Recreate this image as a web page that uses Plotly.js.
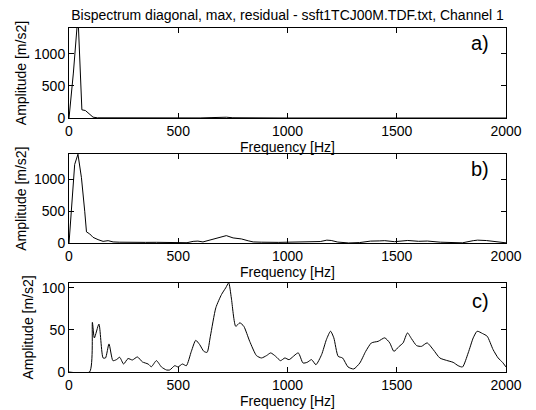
<!DOCTYPE html>
<html>
<head>
<meta charset="utf-8">
<script src="https://cdn.plot.ly/plotly-3.0.1.min.js"></script>
<style>html,body{margin:0;padding:0;background:#fff;}#chart{width:536px;height:410px;}</style>
</head>
<body>
<div id="chart"></div>
<script>
var chartTitle = "Bispectrum diagonal, max, residual - ssft1TCJ00M.TDF.txt, Channel 1";
var xLabel = "Frequency [Hz]";
var yLabel = "Amplitude [m/s2]";
var panelLabels = ["a)", "b)", "c)"];
var xTicks = [0, 500, 1000, 1500, 2000];
var yTicksAB = [0, 500, 1000];
var yTicksC = [0, 50, 100];

// a) diagonal
var freqA = [0, 20, 41, 59, 75, 87, 98, 110, 130, 200, 300, 400, 500, 600, 650, 700, 720, 750, 800, 1000, 1500, 2000];
var ampA  = [0, 700, 1600, 129, 118, 78, 40, 15, 5, 3, 2, 2, 2, 3, 8, 15, 14, 6, 3, 2, 2, 2];

// b) max
var freqB = [0, 26, 41, 57, 72, 80, 95, 110, 133, 156, 179, 202, 230, 260, 300, 350, 400, 450, 500, 540,
             568, 590, 613, 640, 675, 700, 720, 751, 789, 820, 843, 880, 920, 960, 1000, 1050, 1100, 1150, 1180, 1200,
             1230, 1280, 1330, 1380, 1420, 1445, 1490, 1550, 1600, 1640, 1700, 1760, 1800, 1850, 1870, 1910, 1960, 2000];
var ampB  = [0, 1235, 1395, 1027, 502, 179, 147, 94, 58, 31, 42, 22, 18, 20, 18, 15, 16, 10, 8, 10,
             31, 35, 22, 45, 85, 105, 121, 85, 69, 40, 22, 18, 22, 15, 18, 20, 15, 28, 50, 45,
             20, 6, 12, 35, 38, 42, 26, 45, 32, 36, 18, 12, 8, 42, 50, 44, 18, 8];

// c) residual
var freqC = [0, 94, 107, 116, 137, 156, 167, 183, 201, 217, 232, 250, 270, 290, 313, 336, 362, 377, 400, 423,
             446, 461, 484, 499, 519, 537, 560, 580, 598, 617, 632, 647, 672, 698, 717, 731, 743, 763, 782, 800,
             827, 858, 881, 904, 923, 946, 968, 988, 1007, 1049, 1071, 1090, 1110, 1130, 1156, 1178, 1197, 1212, 1232, 1252,
             1277, 1303, 1331, 1358, 1384, 1415, 1445, 1468, 1487, 1511, 1529, 1549, 1568, 1591, 1613, 1639, 1667, 1697, 1728, 1758,
             1781, 1801, 1827, 1850, 1868, 1893, 1914, 1941, 1964, 1984, 2000];
var ampC  = [0, 0, 59, 40.5, 57, 16.7, 16.7, 33.4, 13.5, 14.7, 17.5, 9.5, 16, 14.3, 17.9, 12, 9.5, 6.3, 13.5, 6,
             2.4, 2.4, 7.5, 6, 9.5, 7.5, 24.6, 37.7, 32.6, 24.6, 23.4, 42.5, 76.4, 92.2, 100, 106, 88, 54.4, 58.5, 54.4,
             36.5, 19.5, 16.7, 19.5, 22.7, 18.6, 13.5, 16.7, 14.7, 22.7, 10.7, 11.5, 14.7, 8.7, 20.6, 38.5, 48.5, 40.6, 18.6, 16.7,
             6, 3.6, 10.7, 24.6, 34.6, 36.5, 40.6, 34.6, 24.6, 30.5, 34.6, 46.5, 39.4, 31.4, 30.5, 34.6, 26.6, 16.7, 13.8, 11.5,
             7.5, 6, 22.7, 40.6, 48.5, 45.7, 42.5, 26.6, 16.7, 11.5, 6];

var FONT = "Liberation Sans, Arial, Helvetica, sans-serif";
var lineStyle = {color: "#000", width: 1};

var traces = [
  {x: freqA, y: ampA, xaxis: "x", yaxis: "y", type: "scatter", mode: "lines", line: lineStyle, hoverinfo: "skip"},
  {x: freqB, y: ampB, xaxis: "x2", yaxis: "y2", type: "scatter", mode: "lines", line: lineStyle, hoverinfo: "skip"},
  {x: freqC, y: ampC, xaxis: "x3", yaxis: "y3", type: "scatter", mode: "lines",
   line: {color: "#000", width: 1, shape: "spline", smoothing: 0.6}, hoverinfo: "skip"}
];

function xa(anchor) {
  return {
    anchor: anchor, domain: [0, 1], range: [0, 2000], tickvals: xTicks,
    ticks: "inside", ticklen: 5, tickcolor: "#000", tickwidth: 1,
    showline: true, linecolor: "#000", linewidth: 1, mirror: "ticks",
    showgrid: false, zeroline: false,
    tickfont: {family: FONT, size: 14, color: "#000"},
    title: {text: xLabel, font: {family: FONT, size: 14, color: "#000"}, standoff: 0}
  };
}
function ya(anchor, dom, rng, tv) {
  return {
    anchor: anchor, domain: dom, range: rng, tickvals: tv,
    ticks: "inside", ticklen: 5, tickcolor: "#000", tickwidth: 1,
    showline: true, linecolor: "#000", linewidth: 1, mirror: "ticks",
    showgrid: false, zeroline: false,
    tickfont: {family: FONT, size: 14, color: "#000"},
    title: {text: yLabel, font: {family: FONT, size: 14, color: "#000"}, standoff: 4}
  };
}

var layout = {
  width: 536, height: 410,
  margin: {l: 69, r: 30, t: 28, b: 38},
  paper_bgcolor: "#fff", plot_bgcolor: "#fff",
  showlegend: false,
  font: {family: FONT, size: 14, color: "#000"},
  title: {text: chartTitle, font: {family: FONT, size: 14, color: "#000"},
          x: 0.5, xref: "paper", y: 0.963, yref: "container", yanchor: "middle"},
  xaxis: xa("y"), xaxis2: xa("y2"), xaxis3: xa("y3"),
  yaxis: ya("x", [0.738, 1.0], [0, 1400], yTicksAB),
  yaxis2: ya("x2", [0.374, 0.634], [0, 1400], yTicksAB),
  yaxis3: ya("x3", [0, 0.259], [0, 106], yTicksC),
  annotations: [
    {text: panelLabels[0], xref: "x domain", yref: "y domain", x: 0.965, y: 0.83, xanchor: "right", yanchor: "middle", showarrow: false, font: {family: FONT, size: 20, color: "#000"}},
    {text: panelLabels[1], xref: "x2 domain", yref: "y2 domain", x: 0.965, y: 0.83, xanchor: "right", yanchor: "middle", showarrow: false, font: {family: FONT, size: 20, color: "#000"}},
    {text: panelLabels[2], xref: "x3 domain", yref: "y3 domain", x: 0.965, y: 0.8, xanchor: "right", yanchor: "middle", showarrow: false, font: {family: FONT, size: 20, color: "#000"}}
  ]
};

Plotly.newPlot("chart", traces, layout, {staticPlot: true, displayModeBar: false});
</script>
</body>
</html>
